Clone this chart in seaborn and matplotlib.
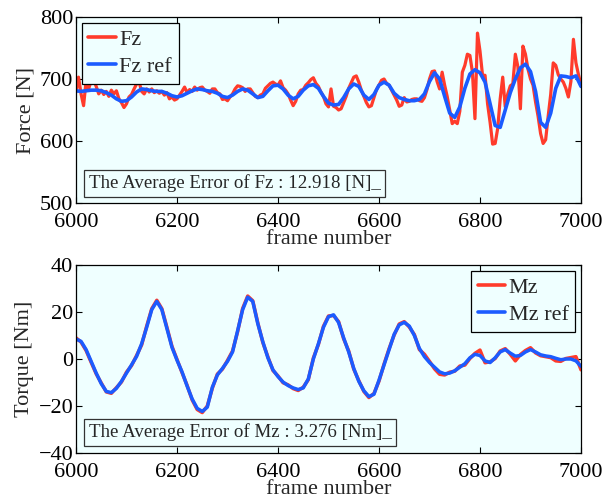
import numpy as np
import pandas as pd
import matplotlib
matplotlib.use("Agg")
import matplotlib.pyplot as plt
import seaborn as sns

# ---------------- data ----------------
frames_ref = list(range(6000, 7001, 10))
fz_ref = [681, 680, 681, 682, 682, 681, 678, 674, 668, 664,
          665, 671, 679, 684, 683, 681, 680, 680, 677, 673,
          671, 673, 677, 681, 684, 683, 681, 680, 677, 672,
          670, 674, 680, 684, 682, 676, 670, 672, 681, 689,
          690, 684, 674, 668, 672, 682, 689, 691, 685, 672,
          661, 658, 659, 670, 684, 692, 688, 674, 667, 675,
          690, 695, 690, 677, 670, 667, 665, 665, 667, 676,
          696, 710, 700, 672, 645, 638, 655, 685, 708, 715,
          710, 695, 660, 625, 622, 650, 678, 700, 718, 724,
          712, 680, 630, 622, 645, 685, 705, 704, 702, 705,
          688]

frames_fz = list(range(6000, 7001, 5))
fz = [679, 703, 676, 657, 697, 684, 697, 699, 688, 676,
      682, 675, 680, 672, 682, 676, 681, 668, 662, 654,
      660, 671, 675, 684, 692, 695, 680, 676, 684, 679,
      684, 678, 681, 677, 680, 674, 678, 668, 671, 666,
      668, 674, 680, 687, 678, 683, 680, 687, 682, 686,
      687, 682, 680, 677, 684, 684, 678, 676, 667, 668,
      665, 671, 676, 684, 689, 688, 686, 680, 684, 684,
      678, 672, 670, 674, 676, 685, 689, 693, 695, 692,
      690, 697, 686, 682, 676, 666, 657, 664, 676, 682,
      683, 690, 694, 699, 702, 693, 688, 679, 672, 660,
      655, 684, 656, 654, 650, 652, 662, 672, 685, 694,
      703, 705, 695, 682, 672, 662, 655, 657, 670, 683,
      690, 698, 700, 693, 690, 682, 674, 666, 656, 658,
      670, 663, 664, 667, 668, 668, 665, 664, 670, 683,
      700, 712, 713, 696, 684, 711, 690, 672, 650, 628,
      632, 628, 648, 711, 722, 740, 738, 711, 636, 774,
      745, 706, 706, 660, 630, 595, 596, 620, 668, 703,
      655, 676, 689, 692, 740, 720, 652, 753, 740, 716,
      700, 690, 663, 640, 612, 596, 602, 640, 675, 726,
      722, 707, 700, 695, 685, 671, 696, 764, 726, 707,
      690]

mz_ref = [8.5, 7.5, 4, -1, -6, -10.5, -13.8, -14.3, -12.5, -9.5,
          -6, -2.5, 1.1, 6.5, 13.5, 21, 24.5, 21, 13, 5,
          -0.5, -5.5, -11.5, -17, -21, -22.3, -20.5, -12, -6.8, -4,
          -1, 3, 12, 21, 26.3, 24.5, 15, 7.3, 0.5, -4.6,
          -7.5, -9.8, -11.3, -12.3, -13, -12.3, -8.5, 0, 6.5, 13.5,
          18, 18.8, 15.5, 9, 3, -4, -9.5, -13.5, -16, -15,
          -9, -2.5, 4, 10.5, 14.5, 15.6, 14, 10, 4.5, 1,
          -1.5, -3.5, -5.5, -6.3, -6, -5, -3.5, -2, 0.5, 2,
          1.5, -0.8, -1.5, 0.5, 3, 4, 2.5, 1.2, 1.5, 3,
          4, 3, 1.8, 1.3, 1, 0.3, -0.3, 0, 0, -0.8,
          -3.1]

mz = [9.0, 7.2, 3.6, -1.4, -6.3, -10.2, -14.0, -14.6, -12.2, -9.8,
      -5.6, -2.8, 1.5, 6.0, 14.0, 21.4, 25.0, 21.4, 13.5, 5.4,
      -0.2, -5.8, -11.2, -17.4, -21.5, -22.8, -20.0, -12.4, -6.4, -4.3,
      -0.6, 3.4, 11.6, 21.5, 26.8, 24.8, 15.4, 7.0, 0.9, -4.9,
      -7.2, -10.1, -11.0, -12.6, -13.4, -12.0, -8.8, 0.4, 6.2, 13.9,
      18.3, 18.5, 15.9, 8.6, 3.4, -4.3, -9.2, -13.8, -16.4, -14.7,
      -9.4, -2.2, 4.4, 10.2, 14.9, 15.9, 13.6, 10.4, 4.0, 2.0,
      -1.0, -4.2, -6.5, -6.8, -5.6, -5.2, -3.0, -2.6, 0.2, 2.4,
      3.8, -1.6, -1.2, 0.2, 3.4, 4.4, 2.0, -0.8, 1.9, 3.6,
      4.8, 2.6, 1.4, 1.0, 0.6, -0.8, -1.0, 0.2, 0.6, 1.0,
      -4.6]

x_ticks = [6000, 6200, 6400, 6600, 6800, 7000]
force_ticks = [500, 600, 700, 800]
torque_ticks = [-40, -20, 0, 20, 40]
fz_text = "The Average Error of Fz : 12.918 [N]_"
mz_text = "The Average Error of Mz : 3.276 [Nm]_"

# ---------------- style ----------------
sns.set_style("ticks")
plt.rcParams['font.family'] = ['Liberation Serif', 'DejaVu Serif']

RED = '#FF3B2B'
BLUE = '#1B5BFF'
BG = '#EFFFFF'

fig = plt.figure(figsize=(6.06, 4.99), dpi=100)
ax1 = fig.add_axes([76/606, 1-203/499, 505/606, 186/499])
ax2 = fig.add_axes([76/606, 1-453/499, 505/606, 188/499])

df_fz = pd.DataFrame({'frame': frames_fz, 'v': fz})
df_fzr = pd.DataFrame({'frame': frames_ref, 'v': fz_ref})
df_mz = pd.DataFrame({'frame': frames_ref, 'v': mz})
df_mzr = pd.DataFrame({'frame': frames_ref, 'v': mz_ref})

kw = dict(solid_joinstyle='round', solid_capstyle='round')
sns.lineplot(data=df_fz, x='frame', y='v', ax=ax1, color=RED, lw=2.3, label='Fz', **kw)
sns.lineplot(data=df_fzr, x='frame', y='v', ax=ax1, color=BLUE, lw=2.6, label='Fz ref', **kw)
sns.lineplot(data=df_mz, x='frame', y='v', ax=ax2, color=RED, lw=2.5, label='Mz', **kw)
sns.lineplot(data=df_mzr, x='frame', y='v', ax=ax2, color=BLUE, lw=2.5, label='Mz ref', **kw)

for ax, yt, ylab in [(ax1, force_ticks, 'Force [N]'), (ax2, torque_ticks, 'Torque [Nm]')]:
    ax.set_facecolor(BG)
    ax.set_xlim(6000, 7000)
    ax.set_ylim(yt[0], yt[-1])
    ax.set_xticks(x_ticks)
    ax.set_yticks(yt)
    ax.tick_params(direction='in', top=True, right=True, length=4, width=0.8,
                   labelsize=16, colors='black')
    ax.tick_params(axis='x', pad=7)
    ax.tick_params(axis='y', pad=2)
    ax.set_xlabel('frame number', fontsize=16, labelpad=-1)
    ax.set_ylabel(ylab, fontsize=16, labelpad=3)
    for s in ax.spines.values():
        s.set_visible(True)
        s.set_linewidth(0.9)
        s.set_color('black')

legkw = dict(fontsize=16, frameon=True, fancybox=False, edgecolor='black',
             framealpha=1, facecolor=BG, borderpad=0.3, labelspacing=0.3,
             handlelength=1.25, handletextpad=0.15, borderaxespad=0.25)
leg1 = ax1.legend(loc='upper left', **legkw)
leg1.get_frame().set_linewidth(0.9)
leg2 = ax2.legend(loc='upper right', **legkw)
leg2.get_frame().set_linewidth(0.9)
for leg in (leg1, leg2):
    for h in leg.get_lines():
        h.set_linewidth(2.6)

box = dict(boxstyle='square,pad=0.25', facecolor='none', edgecolor='#333333', lw=0.9)
ax1.text(0.025, 0.105, fz_text, transform=ax1.transAxes, fontsize=13.6,
         ha='left', va='center', bbox=box)
ax2.text(0.025, 0.11, mz_text, transform=ax2.transAxes, fontsize=13.6,
         ha='left', va='center', bbox=box)

fig.savefig('out.png', dpi=100, facecolor='white')
